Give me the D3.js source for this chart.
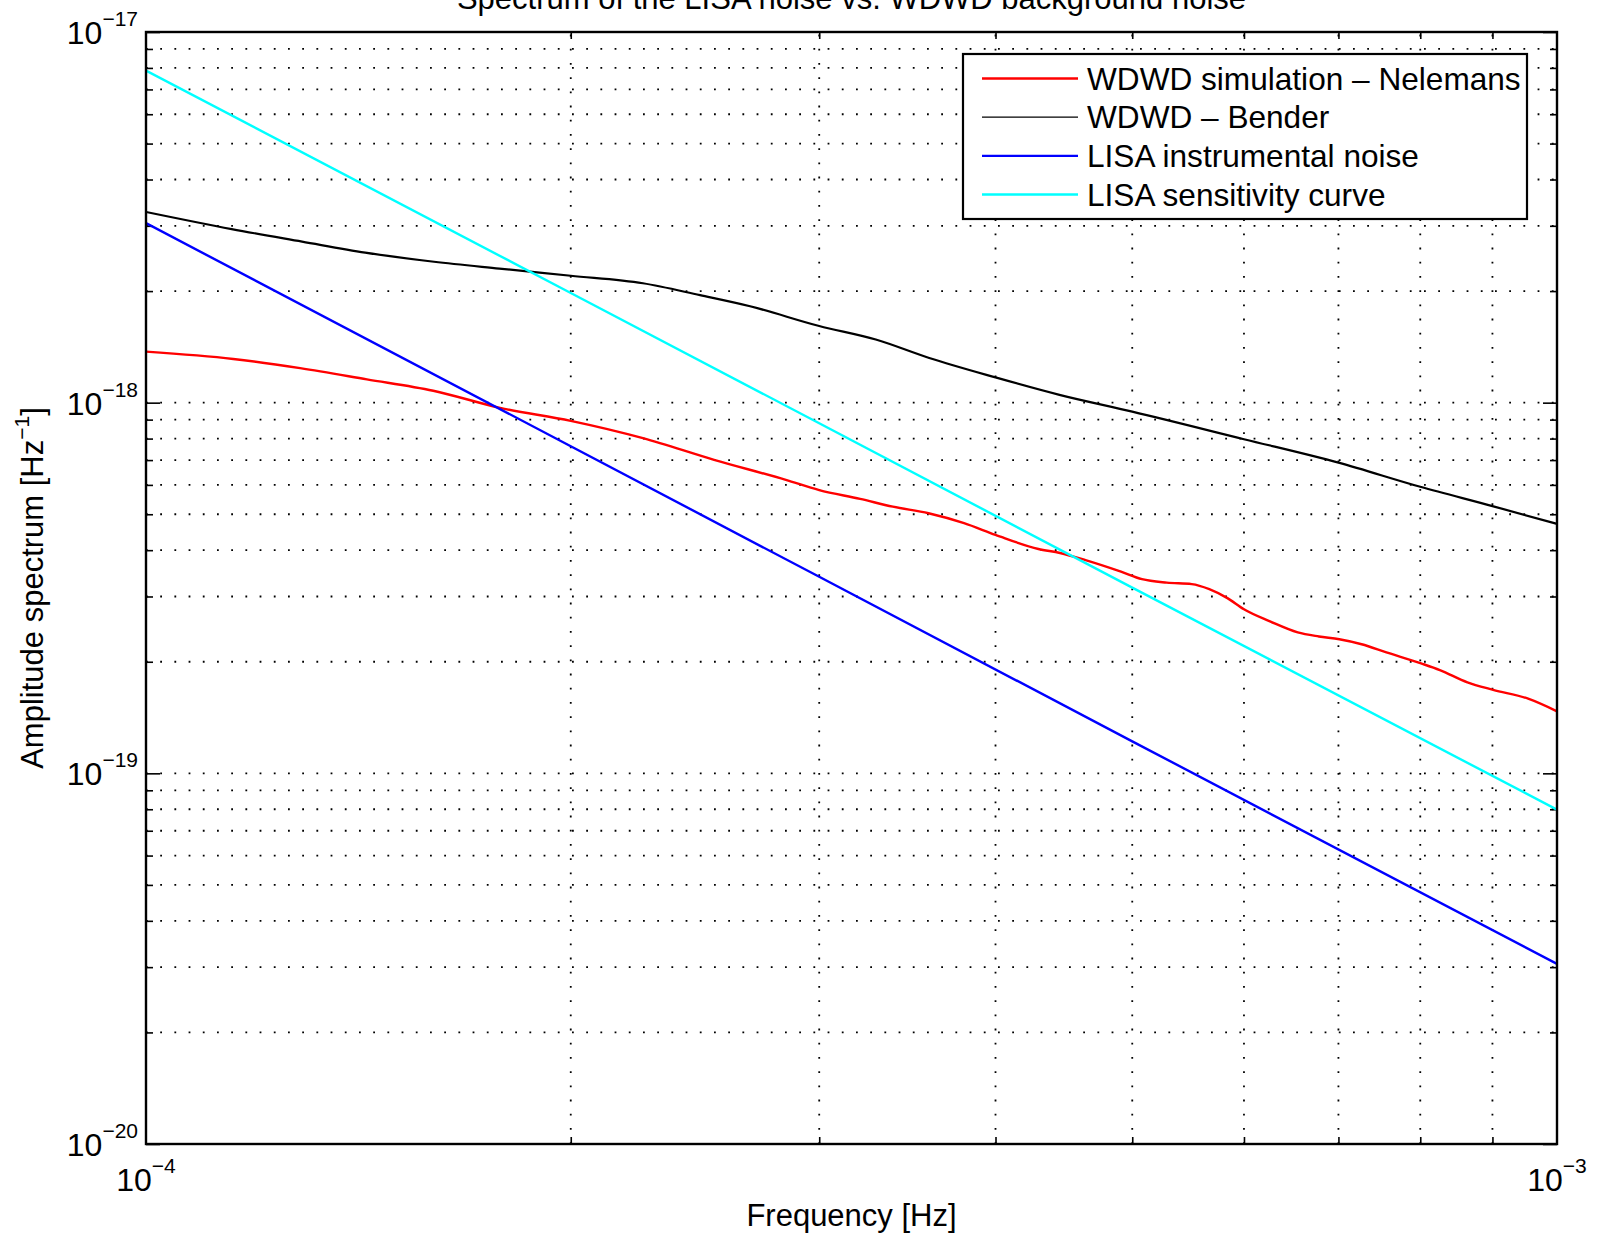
<!DOCTYPE html>
<html>
<head>
<meta charset="utf-8">
<script src="https://cdn.jsdelivr.net/npm/d3@7"></script>
<style>
  html, body { margin: 0; padding: 0; background: #fff; }
  svg { display: block; }
  text { font-family: "Liberation Sans", Arial, Helvetica, sans-serif; fill: #000; }
</style>
</head>
<body>
<svg id="chart" width="1605" height="1243"></svg>
<script>
// ---------------- data ----------------
const titleText = "Spectrum of the LISA noise vs. WDWD background noise";
const xLabelText = "Frequency [Hz]";
const yLabelText = "Amplitude spectrum [Hz";
const yLabelSup = "−1";

const xTickExps = [-4, -3];
const yTickExps = [-20, -19, -18, -17];

const seriesNames = ["WDWD simulation – Nelemans", "WDWD – Bender", "LISA instrumental noise", "LISA sensitivity curve"];
const seriesColors = ["#ff0000", "#000000", "#0000ff", "#00ffff"];

const freqRed = [1.0e-4, 1.153e-4, 1.286e-4, 1.434e-4, 1.598e-4, 1.782e-4, 2.0e-4, 2.25e-4, 2.527e-4, 2.841e-4,
  3.0e-4, 3.207e-4, 3.383e-4, 3.586e-4, 3.8e-4, 4.0e-4, 4.29e-4, 4.444e-4, 4.633e-4, 4.909e-4,
  5.08e-4, 5.29e-4, 5.51e-4, 5.67e-4, 5.84e-4, 6.0e-4, 6.26e-4, 6.55e-4, 6.78e-4, 7.01e-4,
  7.27e-4, 7.57e-4, 8.01e-4, 8.26e-4, 8.64e-4, 9.01e-4, 9.54e-4, 1.0e-3];
const valRed = [1.373e-18, 1.312e-18, 1.239e-18, 1.156e-18, 1.077e-18, 9.68e-19, 8.93e-19, 8.02e-19, 7.01e-19, 6.19e-19,
  5.81e-19, 5.50e-19, 5.24e-19, 5.03e-19, 4.73e-19, 4.40e-19, 4.03e-19, 3.93e-19, 3.76e-19, 3.50e-19,
  3.34e-19, 3.27e-19, 3.24e-19, 3.14e-19, 2.97e-19, 2.77e-19, 2.57e-19, 2.40e-19, 2.34e-19, 2.30e-19,
  2.23e-19, 2.12e-19, 1.98e-19, 1.90e-19, 1.76e-19, 1.68e-19, 1.59e-19, 1.47e-19];

const freqBlack = [1.0e-4, 1.15e-4, 1.29e-4, 1.43e-4, 1.6e-4, 1.78e-4, 2.0e-4, 2.25e-4, 2.47e-4, 2.68e-4,
  3.0e-4, 3.29e-4, 3.59e-4, 4.0e-4, 4.44e-4, 5.0e-4, 6.0e-4, 7.0e-4, 8.0e-4, 9.0e-4, 1.0e-3];
const valBlack = [3.27e-18, 2.94e-18, 2.72e-18, 2.54e-18, 2.40e-18, 2.30e-18, 2.20e-18, 2.10e-18, 1.95e-18, 1.82e-18,
  1.61e-18, 1.48e-18, 1.32e-18, 1.17e-18, 1.05e-18, 9.46e-19, 7.97e-19, 6.89e-19, 5.93e-19, 5.26e-19, 4.71e-19];

const freqBlue = [1.0e-4, 2.0e-4, 3.0e-4, 5.0e-4, 1.0e-3];
const valBlue = [3.05e-18, 7.63e-19, 3.39e-19, 1.22e-19, 3.06e-20];

const freqCyan = [1.0e-4, 2.0e-4, 3.0e-4, 5.0e-4, 1.0e-3];
const valCyan = [7.87e-18, 1.976e-18, 8.80e-19, 3.17e-19, 7.98e-20];

// ---------------- layout ----------------
const L = 146, R = 1557, T = 32, B = 1144;
const svg = d3.select("#chart");
svg.append("rect").attr("width", 1605).attr("height", 1243).attr("fill", "#fff");

const x = d3.scaleLog().domain([1e-4, 1e-3]).range([L, R]);
const y = d3.scaleLog().domain([1e-20, 1e-17]).range([B, T]);

const xMinor = [];
for (let k = 2; k <= 9; k++) xMinor.push(k * 1e-4);
const yMinor = [];
for (let d = -20; d <= -18; d++) for (let k = 2; k <= 9; k++) yMinor.push(k * Math.pow(10, d));
const xMajor = xTickExps.map(e => Math.pow(10, e));
const yMajor = yTickExps.map(e => Math.pow(10, e));

// ---------------- grid (dotted) ----------------
const grid = svg.append("g").attr("stroke", "#000").attr("stroke-width", 1.8)
  .attr("stroke-dasharray", "1.8,12.4").attr("fill", "none");
xMinor.forEach(v => {
  grid.append("line").attr("x1", x(v)).attr("x2", x(v)).attr("y1", B).attr("y2", T);
});
yMinor.concat([1e-19, 1e-18]).forEach(v => {
  grid.append("line").attr("x1", L).attr("x2", R).attr("y1", y(v)).attr("y2", y(v));
});

// ---------------- axes ticks (inward) ----------------
const majorLen = 14, minorLen = 7;
function tickAxis(axisFn, scale, vals, len, tx, ty) {
  const g = svg.append("g").attr("transform", `translate(${tx},${ty})`)
    .call(axisFn(scale).tickValues(vals).tickSizeInner(-len).tickSizeOuter(0).tickFormat(() => ""));
  g.select(".domain").remove();
  g.selectAll(".tick line").attr("stroke", "#000").attr("stroke-width", 1.6);
  return g;
}
tickAxis(d3.axisBottom, x, xMinor, minorLen, 0, B);
tickAxis(d3.axisTop, x, xMinor, minorLen, 0, T);
tickAxis(d3.axisLeft, y, yMinor, minorLen, L, 0);
tickAxis(d3.axisRight, y, yMinor, minorLen, R, 0);
tickAxis(d3.axisLeft, y, yMajor, majorLen, L, 0);
tickAxis(d3.axisRight, y, yMajor, majorLen, R, 0);

// ---------------- data lines ----------------
svg.append("clipPath").attr("id", "clip").append("rect")
  .attr("x", L).attr("y", T).attr("width", R - L).attr("height", B - T);
const line = d3.line().x(d => x(d[0])).y(d => y(d[1]));
const series = [
  { f: freqRed, v: valRed, w: 2.4, curve: d3.curveMonotoneX },
  { f: freqBlack, v: valBlack, w: 2.2, curve: d3.curveMonotoneX },
  { f: freqBlue, v: valBlue, w: 2.4, curve: d3.curveLinear },
  { f: freqCyan, v: valCyan, w: 2.4, curve: d3.curveLinear }
];
const plotG = svg.append("g").attr("clip-path", "url(#clip)");
series.forEach((s, i) => {
  plotG.append("path")
    .datum(s.f.map((f, j) => [f, s.v[j]]))
    .attr("fill", "none")
    .attr("stroke", seriesColors[i])
    .attr("stroke-width", s.w)
    .attr("stroke-linejoin", "round")
    .attr("d", line.curve(s.curve));
});

// ---------------- axes box ----------------
svg.append("rect").attr("x", L).attr("y", T).attr("width", R - L).attr("height", B - T)
  .attr("fill", "none").attr("stroke", "#000").attr("stroke-width", 2.4);

// ---------------- tick labels ----------------
const tickFont = 32, supFont = 21;
xTickExps.forEach(e => {
  const t = svg.append("text").attr("x", x(Math.pow(10, e))).attr("y", 1191)
    .attr("text-anchor", "middle").attr("font-size", tickFont);
  t.append("tspan").text("10");
  t.append("tspan").attr("dy", -18).attr("font-size", supFont).text("−" + Math.abs(e));
});
yTickExps.forEach(e => {
  const t = svg.append("text").attr("x", 138).attr("y", y(Math.pow(10, e)) + 12)
    .attr("text-anchor", "end").attr("font-size", tickFont);
  t.append("tspan").text("10");
  t.append("tspan").attr("dy", -18).attr("font-size", supFont).text("−" + Math.abs(e));
});

// ---------------- labels & title ----------------
svg.append("text").attr("x", (L + R) / 2).attr("y", 1226).attr("text-anchor", "middle")
  .attr("font-size", 31).text(xLabelText);
const yl = svg.append("text").attr("transform", `translate(43,${(T + B) / 2}) rotate(-90)`)
  .attr("text-anchor", "middle").attr("font-size", 31);
yl.append("tspan").text(yLabelText);
yl.append("tspan").attr("dy", -14).attr("font-size", 21).text(yLabelSup);
yl.append("tspan").attr("dy", 14).text("]");
svg.append("text").attr("x", (L + R) / 2).attr("y", 9).attr("text-anchor", "middle")
  .attr("font-size", 31).text(titleText);

// ---------------- legend ----------------
const lg = svg.append("g");
lg.append("rect").attr("x", 963).attr("y", 54).attr("width", 564).attr("height", 165)
  .attr("fill", "#fff").attr("stroke", "#000").attr("stroke-width", 2.2);
const rowY = d3.scaleLinear().domain([0, 3]).range([78.5, 194.5]);
seriesNames.forEach((name, i) => {
  const yy = rowY(i);
  lg.append("line").attr("x1", 982).attr("x2", 1078).attr("y1", yy).attr("y2", yy)
    .attr("stroke", seriesColors[i]).attr("stroke-width", i === 1 ? 1.4 : 2.4);
  lg.append("text").attr("x", 1087).attr("y", yy + 11).attr("font-size", 31.6).text(name);
});
</script>
</body>
</html>
